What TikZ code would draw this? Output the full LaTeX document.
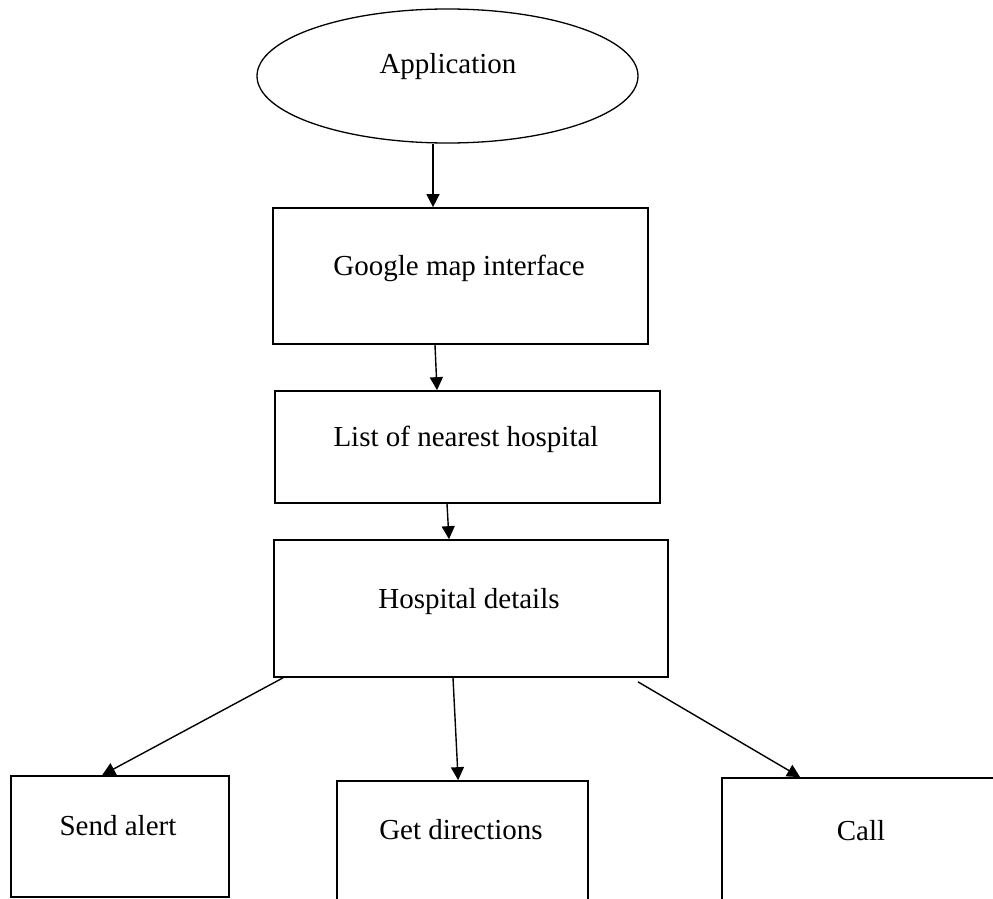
\documentclass[tikz,border=0pt]{standalone}
\usepackage{fontspec}
\setmainfont{Liberation Serif}
\usetikzlibrary{shapes.geometric,arrows.meta}

\tikzset{
  box/.style={draw, line width=1.7pt, rectangle, inner sep=0pt},
  oval/.style={draw, line width=1.3pt, ellipse, inner sep=0pt},
  lbl/.style={anchor=base, inner sep=0pt, font=\fontsize{29}{34}\selectfont},
  flow/.style={line width=1.4pt, -{Triangle[length=13pt,width=13pt]}}
}

\begin{document}
\begin{tikzpicture}[x=1pt, y=-1pt]
  \useasboundingbox (0,0) rectangle (993,899);
  \clip (0,0) rectangle (993,899);
  \fill[white] (0,0) rectangle (993,899);

  % start and processing steps
  \node[oval, minimum width=381pt, minimum height=134pt] (app) at (447.5,76) {};
  \node[box, minimum width=375pt, minimum height=136pt] (gmap) at (460.5,276) {};
  \node[box, minimum width=385pt, minimum height=112pt] (list) at (467.5,447) {};
  \node[box, minimum width=394pt, minimum height=137pt] (details) at (471,608.5) {};

  % actions offered for a chosen hospital
  \node[box, minimum width=218pt, minimum height=121pt] (alert) at (120,836.5) {};
  \node[box, minimum width=251pt, minimum height=140pt] (dirs) at (462.5,851) {};
  \node[box, minimum width=288pt, minimum height=142pt] (call) at (866,849) {};

  % labels
  \node[lbl] (appT) at (448,74) {Application};
  \node[lbl] (gmapT) at (459,275) {Google map interface};
  \node[lbl] (listT) at (466,446) {List of nearest hospital};
  \node[lbl] (detailsT) at (469,608) {Hospital details};
  \node[lbl] (alertT) at (118,835) {Send alert};
  \node[lbl] (dirsT) at (461,839) {Get directions};
  \node[lbl] (callT) at (861,840) {Call};

  % connectors
  \draw[flow] ([xshift=-14.5pt]app.south) -- ([xshift=-27.5pt]gmap.north);
  \draw[flow] ([xshift=-25.5pt]gmap.south) -- ([xshift=-30.5pt]list.north);
  \draw[flow] ([xshift=-20.5pt]list.south) -- ([xshift=-22pt]details.north);
  \draw[flow] ([xshift=-188pt]details.south) -- ([xshift=92pt]alert.north west);
  \draw[flow] ([xshift=-18pt]details.south) -- ([xshift=122pt]dirs.north west);
  \draw[flow] ([xshift=167pt,yshift=-4pt]details.south) -- ([xshift=79pt]call.north west);
\end{tikzpicture}
\end{document}
